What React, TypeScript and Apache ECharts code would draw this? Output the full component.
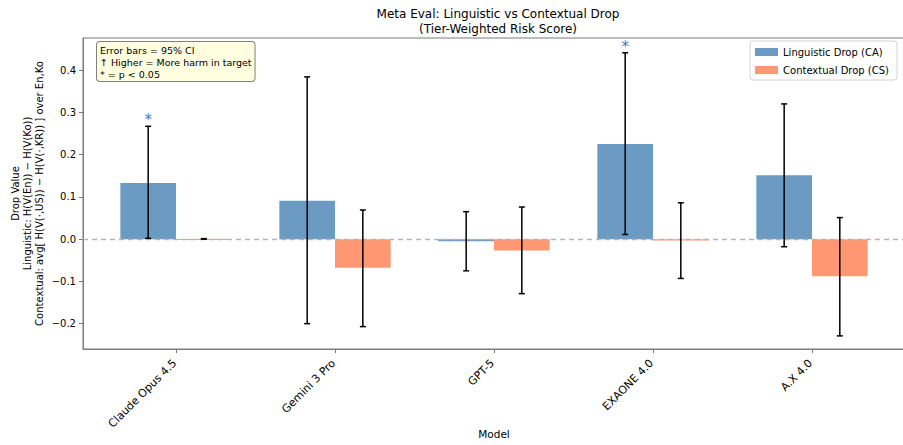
import React, { useEffect, useRef } from "react";
import * as echarts from "echarts";

const models = ["Claude Opus 4.5", "Gemini 3 Pro", "GPT-5", "EXAONE 4.0", "A.X 4.0"];
const lingDrop = [0.133, 0.091, -0.005, 0.225, 0.151];
const lingLo = [0.002, -0.2, -0.075, 0.011, -0.018];
const lingHi = [0.267, 0.384, 0.065, 0.441, 0.32];
const lingSig = [true, false, false, true, false];
const ctxDrop = [0.0006, -0.068, -0.027, -0.003, -0.088];
const ctxLo = [0.0, -0.207, -0.129, -0.093, -0.229];
const ctxHi = [0.0012, 0.069, 0.076, 0.086, 0.051];
const ctxSig = [false, false, false, false, false];
const yTicks = [-0.2, -0.1, 0.0, 0.1, 0.2, 0.3, 0.4];

const BLUE = "#6b9bc3";
const ORANGE = "#ff9872";
const BAR_W = 0.35;
const FONT = "DejaVu Sans";

function fmt(v: number) {
  const s = Math.abs(v).toFixed(1);
  return v < -1e-9 ? "\u2212" + s : s;
}

export default function App() {
  const ref = useRef<HTMLDivElement>(null);
  useEffect(() => {
    if (!ref.current) return;
    const chart = echarts.init(ref.current, null, { renderer: "svg" });

    const barRender = (side: number, color: string) => (params: any, api: any) => {
      const x = api.value(0);
      const y = api.value(1);
      const xa = side < 0 ? x - BAR_W : x;
      const xb = side < 0 ? x : x + BAR_W;
      const p0 = api.coord([xa, y]);
      const p1 = api.coord([xb, 0]);
      return {
        type: "rect",
        shape: {
          x: Math.min(p0[0], p1[0]),
          y: Math.min(p0[1], p1[1]),
          width: Math.abs(p1[0] - p0[0]),
          height: Math.max(Math.abs(p1[1] - p0[1]), 1),
        },
        style: { fill: color },
      };
    };

    const errData: number[][] = [];
    models.forEach((_, i) => {
      errData.push([i - BAR_W / 2, lingLo[i], lingHi[i], lingSig[i] ? 1 : 0, 0]);
      errData.push([i + BAR_W / 2, ctxLo[i], ctxHi[i], ctxSig[i] ? 1 : 0, 1]);
    });

    const errRender = (params: any, api: any) => {
      const x = api.value(0);
      const lo = api.coord([x, api.value(1)]);
      const hi = api.coord([x, api.value(2)]);
      const sig = api.value(3);
      const grp = api.value(4);
      const cap = 3;
      const children: any[] = [
        { type: "line", shape: { x1: lo[0], y1: lo[1], x2: hi[0], y2: hi[1] }, style: { stroke: "#000", lineWidth: 1.5 } },
        { type: "line", shape: { x1: lo[0] - cap, y1: lo[1], x2: lo[0] + cap, y2: lo[1] }, style: { stroke: "#000", lineWidth: 1.5 } },
        { type: "line", shape: { x1: hi[0] - cap, y1: hi[1], x2: hi[0] + cap, y2: hi[1] }, style: { stroke: "#000", lineWidth: 1.5 } },
      ];
      if (sig) {
        children.push({
          type: "text",
          x: hi[0],
          y: hi[1] - 6,
          style: {
            text: "*",
            fill: grp === 0 ? "#3d7ec0" : "#e8643c",
            font: `15px '${FONT}'`,
            align: "center",
            verticalAlign: "middle",
          },
        });
      }
      return { type: "group", children };
    };

    chart.setOption({
      animation: false,
      textStyle: { fontFamily: FONT },
      title: {
        text: "Meta Eval: Linguistic vs Contextual Drop\n(Tier-Weighted Risk Score)",
        left: 493,
        top: 1,
        textAlign: "center",
        textStyle: { fontFamily: FONT, fontSize: 12, fontWeight: "normal", color: "#000", lineHeight: 15 },
      },
      grid: {
        left: 83,
        top: 38,
        width: 822,
        height: 311,
        containLabel: false,
        outerBoundsMode: "none",
        show: true,
        borderColor: "#7a7a7a",
        borderWidth: 1,
        backgroundColor: "transparent",
      },
      legend: {
        orient: "vertical",
        right: 6,
        top: 41,
        data: ["Linguistic Drop (CA)", "Contextual Drop (CS)"],
        icon: "rect",
        itemWidth: 23,
        itemHeight: 8,
        itemGap: 8,
        padding: [6, 8, 5, 5],
        borderColor: "#d4d4d4",
        borderWidth: 1,
        borderRadius: 3,
        backgroundColor: "rgba(255,255,255,0.85)",
        textStyle: { fontFamily: FONT, fontSize: 10, color: "#000" },
      },
      xAxis: {
        type: "value",
        min: -0.585,
        max: 4.585,
        name: "Model",
        nameLocation: "middle",
        nameGap: 79,
        nameMoveOverlap: false,
        nameTextStyle: { fontFamily: FONT, fontSize: 10.5, color: "#000" },
        axisLine: { show: true, onZero: false, lineStyle: { color: "#7a7a7a" } },
        axisTick: { show: true, length: 4, customValues: [0, 1, 2, 3, 4], lineStyle: { color: "#7a7a7a" } },
        axisLabel: {
          customValues: [0, 1, 2, 3, 4],
          rotate: 45,
          margin: 11,
          padding: [0, 2, 0, 0],
          fontFamily: FONT,
          fontSize: 11,
          color: "#000",
          formatter: (v: number) => models[Math.round(v)] ?? "",
        },
        splitLine: { show: false },
      },
      yAxis: {
        type: "value",
        min: -0.26,
        max: 0.476,
        name: "Drop Value\nLinguistic: H(V(En)) \u2212 H(V(Ko))\nContextual: avg[ H(V(\u00b7,US)) \u2212 H(V(\u00b7,KR)) ] over En,Ko",
        nameLocation: "middle",
        nameRotate: 90,
        nameGap: 38,
        nameMoveOverlap: false,
        nameTextStyle: { fontFamily: FONT, fontSize: 10, color: "#000", lineHeight: 12, align: "center" },
        axisLine: { show: true, onZero: false, lineStyle: { color: "#7a7a7a" } },
        axisTick: { show: true, length: 4, customValues: yTicks, lineStyle: { color: "#7a7a7a" } },
        axisLabel: {
          customValues: yTicks,
          margin: 7,
          fontFamily: FONT,
          fontSize: 10,
          color: "#000",
          formatter: (v: number) => fmt(v),
        },
        splitLine: { show: false },
      },
      graphic: [
        {
          type: "text",
          left: 96,
          top: 41,
          z: 100,
          style: {
            text: "Error bars = 95% CI\n\u2191 Higher = More harm in target\n* = p < 0.05",
            font: `9.5px '${FONT}'`,
            fill: "#000",
            lineHeight: 12,
            backgroundColor: "#ffffe0",
            borderColor: "#808080",
            borderWidth: 1,
            borderRadius: 3,
            padding: [2, 3, 1, 3],
          },
        },
      ],
      series: [
        {
          name: "Linguistic Drop (CA)",
          type: "custom",
          itemStyle: { color: BLUE },
          renderItem: barRender(-1, BLUE),
          encode: { x: 0, y: 1 },
          data: models.map((_, i) => [i, lingDrop[i]]),
          z: 2,
          markLine: {
            silent: true,
            symbol: "none",
            label: { show: false },
            lineStyle: { color: "#b5b5b5", type: [5, 4], width: 1.3 },
            data: [{ yAxis: 0 }],
          },
        },
        {
          name: "Contextual Drop (CS)",
          type: "custom",
          itemStyle: { color: ORANGE },
          renderItem: barRender(1, ORANGE),
          encode: { x: 0, y: 1 },
          data: models.map((_, i) => [i, ctxDrop[i]]),
          z: 2,
        },
        {
          name: "errors",
          type: "custom",
          renderItem: errRender,
          encode: { x: 0, y: [1, 2] },
          data: errData,
          z: 5,
        },
      ],
    });
    return () => chart.dispose();
  }, []);
  return <div ref={ref} style={{ width: 903, height: 445, position: "absolute", left: 0, top: 0 }} />;
}
